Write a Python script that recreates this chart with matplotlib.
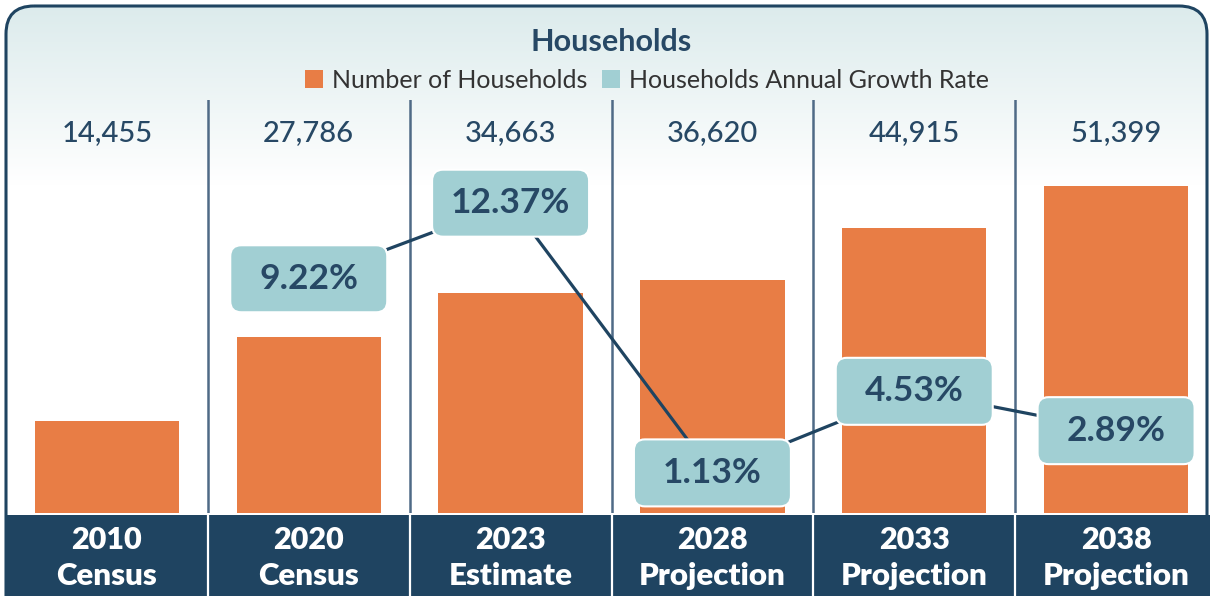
import matplotlib.pyplot as plt
import matplotlib.transforms as mtransforms
import numpy as np
from matplotlib.patches import FancyBboxPatch, Patch

plt.rcParams["font.family"] = ["Lato", "DejaVu Sans"]

# data
years = ["2010", "2020", "2023", "2028", "2033", "2038"]
kinds = ["Census", "Census", "Estimate", "Projection", "Projection", "Projection"]
households = [14455, 27786, 34663, 36620, 44915, 51399]
growth_years = ["2020", "2023", "2028", "2033", "2038"]
growth_rate = [9.22, 12.37, 1.13, 4.53, 2.89]

ORANGE = "#e87d45"
TEAL = "#a1cfd3"
NAVY = "#1f4461"
TEXT_NAVY = "#274865"
DIVIDER = "#4f6a86"

W, H = 1210, 596
fig = plt.figure(figsize=(W / 100, H / 100), dpi=100)

# background: rounded frame with a pale gradient at the top
bg = fig.add_axes([0, 0, 1, 1])
bg.set_xlim(0, W)
bg.set_ylim(H, 0)
bg.axis("off")
frame_kw = dict(boxstyle="round,pad=0,rounding_size=28")
frame = FancyBboxPatch((6, 6), 1201, 660, facecolor="white", edgecolor="none",
                       zorder=1, **frame_kw)
bg.add_patch(frame)
grad = np.linspace(0, 1, 256)[:, None]
top = np.array([220, 235, 236]) / 255
grad_rgb = np.ones((256, 1, 3))
grad_rgb[:, 0, :] = top * (1 - grad) + grad
img = bg.imshow(grad_rgb, extent=(6, 1207, 185, 6), aspect="auto", zorder=1.5)
img.set_clip_path(frame)
bg.add_patch(FancyBboxPatch((6, 6), 1201, 660, facecolor="none", edgecolor=NAVY,
                            linewidth=2.2, zorder=2, **frame_kw))

x = np.arange(len(years))
xlim = (-0.5, 5.5 - 7 / 201.8)

# bars
ax = fig.add_axes([6 / W, (H - 513.3) / H, 1204 / W, 413.3 / H])
ax.patch.set_alpha(0)
ax.bar(x, households, width=0.715, color=ORANGE, zorder=2)
ax.set_xlim(*xlim)
ax.set_ylim(0, 65000)
ax.axis("off")
for xi in x[:-1]:
    ax.axvline(xi + 0.5, color=DIVIDER, linewidth=1.8, zorder=1)
for xi, v in zip(x, households):
    ax.text(xi, 0.92, f"{v:,}", transform=ax.get_xaxis_transform(),
            ha="center", va="center", fontsize=21, fontweight="medium",
            color=TEXT_NAVY)

# growth rate line with fixed-size rounded labels
ax2 = ax.twinx()
ax2.set_ylim(-0.554, 16.67)
ax2.set_xlim(*xlim)
ax2.axis("off")
gx = [years.index(y) for y in growth_years]
ax2.plot(gx, growth_rate, color=NAVY, linewidth=2.3, zorder=1)
bw, bh = 1.57, 0.67
for xi, r in zip(gx, growth_rate):
    tr = fig.dpi_scale_trans + mtransforms.ScaledTranslation(xi, r, ax2.transData)
    box = FancyBboxPatch((-bw / 2, -bh / 2), bw, bh,
                         boxstyle="round,pad=0,rounding_size=0.11",
                         facecolor=TEAL, edgecolor="white", linewidth=1.5,
                         transform=tr, zorder=3)
    ax2.add_patch(box)
    ax2.text(xi, r, f"{r:.2f}%", ha="center", va="center", fontsize=25.5,
             fontweight="bold", color=TEXT_NAVY, zorder=4)

# category band
band = fig.add_axes([6 / W, 0, 1204 / W, 81 / H])
band.set_facecolor(NAVY)
band.set_xlim(*xlim)
band.set_ylim(0, 1)
band.set_xticks([])
band.set_yticks([])
for s in band.spines.values():
    s.set_visible(False)
for xi in x[:-1]:
    band.axvline(xi + 0.5, color="white", linewidth=1.6)
for xi, yr, k in zip(x, years, kinds):
    band.text(xi, 0.69, yr, ha="center", va="center", fontsize=22,
              fontweight="heavy", color="white")
    band.text(xi, 0.25, k, ha="center", va="center", fontsize=22.5,
              fontweight="heavy", color="white")

# title and legend
fig.text(611 / W, 1 - 42 / H, "Households", ha="center", va="center",
         fontsize=22, fontweight="bold", color=TEXT_NAVY)
handles = [Patch(facecolor=ORANGE, label="Number of Households"),
           Patch(facecolor=TEAL, label="Households Annual Growth Rate")]
fig.legend(handles=handles, loc="center", bbox_to_anchor=(647 / W, 1 - 80 / H),
           ncol=2, frameon=False, fontsize=18, handlelength=0.72, handleheight=0.72,
           handletextpad=0.35, columnspacing=0.6, labelcolor="#333333")

fig.savefig("out.png", dpi=100)
